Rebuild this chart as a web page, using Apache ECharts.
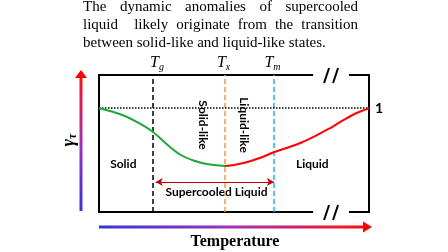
<!DOCTYPE html>
<html><head><meta charset="utf-8">
<script src="https://cdn.jsdelivr.net/npm/echarts@6/dist/echarts.min.js"></script>
<style>html,body{margin:0;padding:0;background:#fff}#c{width:448px;height:252px}</style>
</head><body><div id="c"></div>
<script>
// ---- data ----
const titleLines = ["The dynamic anomalies of supercooled", "liquid  likely originate from the transition", "between solid-like and liquid-like states."];
const transitionNames = ["g", "x", "m"];
const transitionTemps = [20, 46.7, 64.8];
const solidT = [0, 4.8, 10, 15, 20, 25, 30, 35, 40, 46.7];
const solidGamma = [1.0, 0.968, 0.920, 0.853, 0.771, 0.655, 0.554, 0.496, 0.462, 0.443];
const liquidT = [46.7, 50, 55, 60, 65, 70, 75, 80, 85, 90, 95, 100];
const liquidGamma = [0.443, 0.453, 0.482, 0.525, 0.578, 0.621, 0.670, 0.732, 0.800, 0.877, 0.949, 1.0];
const refGamma = 1;
const refLabel = "1";
const regionNames = ["Solid", "Liquid", "Supercooled Liquid"];
const stateNames = ["Solid-like", "Liquid-like"];
const xAxisName = "Temperature";

// ---- layout ----
const X_MIN = 0, X_MAX = 100, Y_MIN = 0, Y_MAX = 1.32;
const BREAK_A = 79.3, BREAK_B = 92.6;
const tColors = ["#000000", "#f79646", "#1fb4ea"];

const chart = echarts.init(document.getElementById('c'), null, {renderer: 'canvas'});

const option = {
  animation: false,
  grid: {left: 99, top: 75, width: 270, height: 137},
  xAxis: {type: 'value', min: X_MIN, max: X_MAX, show: false},
  yAxis: {type: 'value', min: Y_MIN, max: Y_MAX, show: false},
  series: [
    {
      type: 'line', data: solidT.map((t, i) => [t, solidGamma[i]]), smooth: 0.3,
      showSymbol: false, lineStyle: {color: '#1fa83a', width: 2}, z: 5,
      markLine: {
        silent: true, symbol: 'none', animation: false,
        data: transitionTemps.map((t, i) => ({
          xAxis: t,
          lineStyle: {color: tColors[i], type: [5, 3], width: 1.5},
          label: {show: false}
        })).concat([{
          yAxis: refGamma,
          lineStyle: {color: '#000', type: [1.5, 1.5], width: 1.5},
          label: {show: true, position: 'end', formatter: refLabel, distance: 6,
                  fontFamily: 'Lato', fontWeight: 'bold', fontSize: 14, color: '#000'}
        }])
      }
    },
    {
      type: 'line', data: liquidT.map((t, i) => [t, liquidGamma[i]]), smooth: 0.3,
      showSymbol: false, lineStyle: {color: '#ff0000', width: 2}, z: 5,
      markLine: {
        silent: true, animation: false, symbol: ['arrow', 'arrow'], symbolSize: [6, 7],
        data: [[{coord: [transitionTemps[0] + 1, 0.289]}, {coord: [transitionTemps[2], 0.289]}]],
        lineStyle: {color: '#c00000', type: 'solid', width: 1.2},
        label: {show: false}
      }
    }
  ]
};
chart.setOption(option);

const P = (x, y) => chart.convertToPixel({gridIndex: 0}, [x, y]);
const g = [];
const black = {stroke: '#000', lineWidth: 2, fill: null};
const [x0, yB] = P(X_MIN, Y_MIN);
const [x1, yT] = P(X_MAX, Y_MAX);
const [xa] = P(BREAK_A, 0);
const [xb] = P(BREAK_B, 0);
// frame
g.push({type: 'polyline', shape: {points: [[xa, yT], [x0, yT], [x0, yB], [xa, yB]]}, style: black});
g.push({type: 'polyline', shape: {points: [[xb, yT], [x1, yT], [x1, yB], [xb, yB]]}, style: black});
// break marks
[yT, yB].forEach(yy => {
  const c = (xa + xb) / 2;
  [-5, 4].forEach(dx => {
    g.push({type: 'line', shape: {x1: c + dx - 2, y1: yy + 8, x2: c + dx + 3, y2: yy - 7},
      style: {stroke: '#000', lineWidth: 2}});
  });
});
// transition labels
const tLabelDx = [4, -1.5, -1.5];
transitionTemps.forEach((t, i) => {
  const [px] = P(t, 0);
  g.push({type: 'text', x: px + tLabelDx[i], y: yT - 12, style: {
    text: '{t|T}{s|' + transitionNames[i] + '}', align: 'center', verticalAlign: 'middle',
    rich: {t: {fontFamily: 'Liberation Serif', fontStyle: 'italic', fontSize: 16, color: '#000'},
           s: {fontFamily: 'Liberation Serif', fontStyle: 'italic', fontSize: 10, color: '#000', padding: [8, 0, 0, 0]}}
  }});
});
// region labels
const bold = {fontFamily: 'Lato', fontWeight: 'bold', fontSize: 12, fill: '#000', align: 'center', verticalAlign: 'middle'};
[[9, 0.46], [79, 0.46], [43.5, 0.195]].forEach((p, i) => {
  const [px, py] = P(p[0], p[1]);
  g.push({type: 'text', x: px, y: py, style: Object.assign({text: regionNames[i]}, bold)});
});
[[38.5, 1.22], [53.5, 1.22]].forEach((p, i) => {
  const [px] = P(p[0], 0);
  g.push({type: 'text', x: px, y: 125, rotation: -Math.PI / 2, style: Object.assign({text: stateNames[i]}, bold)});
});
// gradient arrows
const grad = (v) => new echarts.graphic.LinearGradient(0, v ? 1 : 0, v ? 0 : 1, 0, [
  {offset: 0, color: '#3535d8'}, {offset: 0.5, color: '#a030b8'}, {offset: 1, color: '#ff1010'}]);
g.push({type: 'rect', shape: {x: 79.5, y: 76, width: 3, height: 135}, style: {fill: grad(true)}});
g.push({type: 'polygon', shape: {points: [[75, 78], [87, 78], [81, 70]]}, style: {fill: '#ff0000'}});
g.push({type: 'rect', shape: {x: 99, y: 225.5, width: 265, height: 3}, style: {fill: grad(false)}});
g.push({type: 'polygon', shape: {points: [[363, 221.5], [363, 232.5], [372, 227]]}, style: {fill: '#ff0000'}});
g.push({type: 'text', x: 235, y: 242, style: {text: xAxisName, fontFamily: 'Liberation Serif', fontWeight: 'bold',
  fontSize: 16, fill: '#000', align: 'center', verticalAlign: 'middle'}});
g.push({type: 'text', x: 69, y: 140, rotation: Math.PI / 2, style: {
  text: '{a|γ}{b|τ}', align: 'center', verticalAlign: 'middle',
  rich: {a: {fontFamily: 'Liberation Serif', fontWeight: 'bold', fontStyle: 'italic', fontSize: 18, color: '#000'},
         b: {fontFamily: 'Liberation Serif', fontWeight: 'bold', fontStyle: 'italic', fontSize: 12, color: '#000', padding: [8, 0, 0, 0]}}
}});
// justified title
const cv = document.createElement('canvas').getContext('2d');
const tFont = '15px "Liberation Serif"';
cv.font = tFont;
const TL = 83, TR = 358;
titleLines.forEach((line, li) => {
  const y = 7.5 + li * 18;
  const words = line.split(' ');
  const justify = li < titleLines.length - 1;
  const widths = words.map(w => cv.measureText(w).width);
  const total = widths.reduce((a, b) => a + b, 0);
  const gaps = words.length - 1;
  const gap = justify ? (TR - TL - total) / gaps : cv.measureText(' ').width;
  let x = TL;
  words.forEach((w, i) => {
    if (w) g.push({type: 'text', x: x, y: y, style: {text: w, font: tFont, fill: '#000', align: 'left', verticalAlign: 'middle'}});
    x += widths[i] + gap;
  });
});
chart.setOption({graphic: {elements: g}});
</script></body></html>
